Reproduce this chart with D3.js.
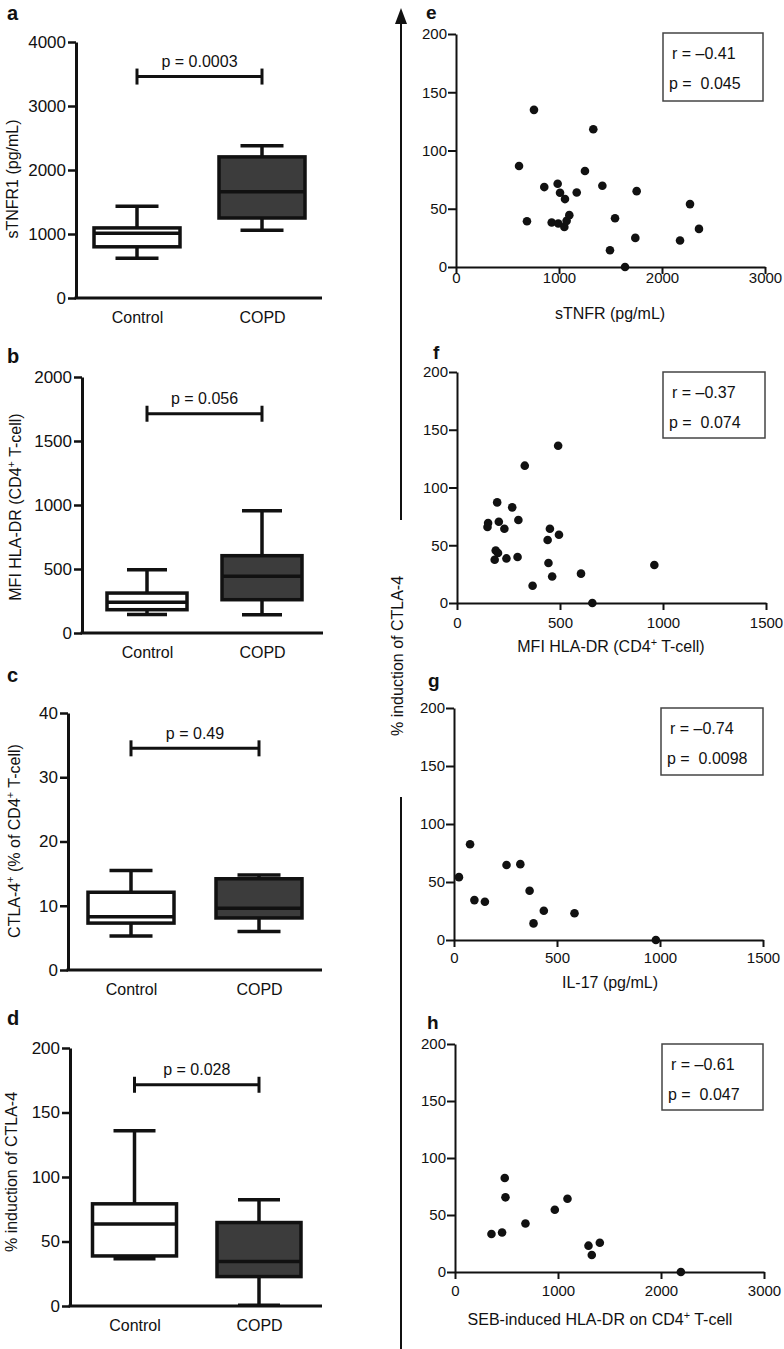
<!DOCTYPE html>
<html><head><meta charset="utf-8">
<script src="https://cdn.jsdelivr.net/npm/d3@7"></script>
<style>
body{margin:0;background:#fff}
svg text{font-family:"Liberation Sans",Arial,Helvetica,sans-serif;fill:#111;white-space:pre}
</style>
</head><body>
<svg id="chart" width="784" height="1349"></svg>
<script>
// ---------- DATA ----------
const boxCategories = ["Control", "COPD"];
// [min, q1, median, q3, max]
const aControl = [620, 800, 1010, 1095, 1435];
const aCOPD    = [1060, 1250, 1660, 2205, 2380];
const bControl = [145, 182, 240, 312, 494];
const bCOPD    = [143, 260, 443, 604, 956];
const cControl = [5.3, 7.3, 8.3, 12.1, 15.5];
const cCOPD    = [6.0, 8.1, 9.6, 14.2, 14.8];
const dControl = [36.7, 38.8, 63.6, 79.2, 135.8];
const dCOPD    = [0.5, 22.8, 34.4, 64.7, 82.3];

const aTicks = [0, 1000, 2000, 3000, 4000];
const bTicks = [0, 500, 1000, 1500, 2000];
const cTicks = [0, 10, 20, 30, 40];
const dTicks = [0, 50, 100, 150, 200];

const pBarLevels = [3460, 1713, 34.5, 171.5];
const pBarTexts = ["p = 0.0003", "p = 0.056", "p = 0.49", "p = 0.028"];

// scatter: x values, y = % induction of CTLA-4
const eX = [757, 1333, 612, 1252, 857, 987, 1010, 1058, 1172, 1421, 1754, 689, 929, 993, 1052, 1074, 1100, 1544, 1495, 1741, 1641, 2175, 2272, 2359];
const eY = [134.9, 118.2, 86.7, 82.4, 68.6, 71.4, 63.7, 58.3, 64, 69.7, 65.1, 39.3, 38.2, 37.3, 34.4, 39.6, 44.5, 41.9, 14.4, 25, 0, 22.7, 54, 32.7];
const fX = [491, 329, 195, 268, 298, 151, 148, 203, 230, 188, 199, 183, 240, 294, 451, 495, 440, 444, 462, 367, 602, 657, 958];
const fY = [136.2, 118.9, 87.1, 82.8, 71.8, 69.3, 65.8, 70.4, 64.3, 45.5, 43.3, 37.5, 38.6, 39.8, 64.3, 59.1, 54.5, 34.6, 23, 15, 25.4, 0, 32.9];
const gX = [78, 24, 99, 150, 255, 322, 367, 386, 436, 585, 980];
const gY = [82.6, 54.2, 34.4, 33, 64.6, 65.4, 42.5, 14.3, 25.2, 23, 0];
const hX = [483, 490, 354, 457, 684, 969, 1092, 1296, 1328, 1406, 2193];
const hY = [82.4, 65.5, 33.3, 34.7, 42.6, 54.6, 64.3, 23.1, 14.9, 25.7, 0];

const scatterYTicks = [0, 50, 100, 150, 200];
const eXTicks = [0, 1000, 2000, 3000];
const fXTicks = [0, 500, 1000, 1500];
const gXTicks = [0, 500, 1000, 1500];
const hXTicks = [0, 1000, 2000, 3000];

const rTexts = ["r = \u20130.41", "r = \u20130.37", "r = \u20130.74", "r = \u20130.61"];
const pTexts = ["p =  0.045", "p =  0.074", "p =  0.0098", "p =  0.047"];

// ---------- DRAW ----------
const svg = d3.select("#chart");

function richText(sel, parts, size) {
  parts.forEach(([t, sup]) => {
    if (sup) {
      sel.append("tspan").attr("font-size", size * 0.68).attr("dy", -size * 0.38).text(t);
    } else {
      const ts = sel.append("tspan").attr("font-size", size).text(t);
      if (sel.node().__supped) ts.attr("dy", size * 0.38);
    }
    sel.node().__supped = !!sup;
  });
}

const leftPanels = [
  {letter: "a", data: [aControl, aCOPD], ticks: aTicks, label: [["sTNFR1 (pg/mL)", 0]], ax: 76, yTop: 42, yBot: 298, xr: 322, c1: 137, c2: 262, bw: 86, lx: 12, ly: 179, letY: 20},
  {letter: "b", data: [bControl, bCOPD], ticks: bTicks, label: [["MFI HLA-DR (CD4", 0], ["+", 1], [" T-cell)", 0]], ax: 82, yTop: 377, yBot: 633, xr: 323, c1: 147, c2: 262, bw: 80, lx: 15.5, ly: 507, letY: 363},
  {letter: "c", data: [cControl, cCOPD], ticks: cTicks, label: [["CTLA-4", 0], ["+", 1], [" (% of CD4", 0], ["+", 1], [" T-cell)", 0]], ax: 68, yTop: 713, yBot: 970, xr: 322, c1: 131, c2: 259, bw: 86, lx: 14.5, ly: 841, letY: 682},
  {letter: "d", data: [dControl, dCOPD], ticks: dTicks, label: [["% induction of CTLA-4", 0]], ax: 70, yTop: 1048, yBot: 1306, xr: 322, c1: 134.5, c2: 259, bw: 84, lx: 11.5, ly: 1172, letY: 1025}
];

leftPanels.forEach((P, i) => {
  const g = svg.append("g");
  const y = d3.scaleLinear().domain([P.ticks[0], P.ticks[P.ticks.length - 1]]).range([P.yBot, P.yTop]);
  const x = d3.scalePoint().domain(boxCategories).range([P.c1, P.c2]);

  // y axis
  const ya = g.append("g").attr("transform", `translate(${P.ax},0)`)
    .call(d3.axisLeft(y).tickValues(P.ticks).tickSizeOuter(0).tickSizeInner(8).tickPadding(2).tickFormat(d3.format("d")));
  ya.attr("font-family", null).attr("font-size", null);
  ya.select(".domain").attr("stroke", "#111").attr("stroke-width", 3);
  ya.selectAll(".tick line").attr("stroke", "#111").attr("stroke-width", 2.5);
  ya.selectAll(".tick text").attr("font-size", 17).attr("fill", "#111");

  // x axis line
  g.append("line").attr("x1", P.ax - 1.5).attr("x2", P.xr).attr("y1", P.yBot).attr("y2", P.yBot)
    .attr("stroke", "#111").attr("stroke-width", 3);
  const xa = g.append("g").attr("transform", `translate(0,${P.yBot})`)
    .call(d3.axisBottom(x).tickSize(0).tickPadding(14));
  xa.attr("font-family", null).attr("font-size", null);
  xa.select(".domain").remove();
  xa.selectAll(".tick text").attr("font-size", 16).attr("fill", "#111");

  // boxes
  P.data.forEach((d, k) => {
    const cx = x(boxCategories[k]);
    const fill = k === 0 ? "#ffffff" : "#3c3c3c";
    const bg = g.append("g").attr("stroke", "#111").attr("stroke-width", 3.5).attr("fill", "none");
    bg.append("line").attr("x1", cx).attr("x2", cx).attr("y1", y(d[0])).attr("y2", y(d[1]));
    bg.append("line").attr("x1", cx).attr("x2", cx).attr("y1", y(d[3])).attr("y2", y(d[4]));
    bg.append("line").attr("x1", cx - P.bw / 4).attr("x2", cx + P.bw / 4).attr("y1", y(d[0])).attr("y2", y(d[0]));
    bg.append("line").attr("x1", cx - P.bw / 4).attr("x2", cx + P.bw / 4).attr("y1", y(d[4])).attr("y2", y(d[4]));
    bg.append("rect").attr("x", cx - P.bw / 2).attr("width", P.bw).attr("y", y(d[3])).attr("height", y(d[1]) - y(d[3]))
      .attr("fill", fill);
    bg.append("line").attr("x1", cx - P.bw / 2).attr("x2", cx + P.bw / 2).attr("y1", y(d[2])).attr("y2", y(d[2]));
  });

  // p bar
  const py = y(pBarLevels[i]);
  const pb = g.append("g").attr("stroke", "#111").attr("stroke-width", 3);
  pb.append("line").attr("x1", P.c1).attr("x2", P.c2).attr("y1", py).attr("y2", py);
  pb.append("line").attr("x1", P.c1).attr("x2", P.c1).attr("y1", py - 8).attr("y2", py + 8);
  pb.append("line").attr("x1", P.c2).attr("x2", P.c2).attr("y1", py - 8).attr("y2", py + 8);
  g.append("text").attr("x", (P.c1 + P.c2) / 2).attr("y", py - 9.5).attr("text-anchor", "middle")
    .attr("font-size", 16).text(pBarTexts[i]);

  // y label
  const yl = g.append("text").attr("transform", `translate(${P.lx},${P.ly}) rotate(-90)`)
    .attr("text-anchor", "middle").attr("dy", "0.35em");
  richText(yl, P.label, 16);

  // letter
  g.append("text").attr("x", 7).attr("y", P.letY).attr("font-size", 20).attr("font-weight", "bold").text(P.letter);
});

const rightPanels = [
  {letter: "e", xs: eX, ys: eY, xticks: eXTicks, label: [["sTNFR (pg/mL)", 0]], ax: 456, xr: 765, yTop: 34, yBot: 267, box: [663, 33, 100, 68], lblX: 610, lblY: 319, tickOff: 16, letX: 426, letY: 19},
  {letter: "f", xs: fX, ys: fY, xticks: fXTicks, label: [["MFI HLA-DR (CD4", 0], ["+", 1], [" T-cell)", 0]], ax: 457, xr: 766, yTop: 372, yBot: 603, box: [663, 372, 102, 66], lblX: 611, lblY: 652, tickOff: 25, letX: 433, letY: 359},
  {letter: "g", xs: gX, ys: gY, xticks: gXTicks, label: [["IL-17 (pg/mL)", 0]], ax: 454, xr: 763, yTop: 708, yBot: 940, box: [661, 708, 102, 67], lblX: 610, lblY: 988, tickOff: 23, letX: 428, letY: 687},
  {letter: "h", xs: hX, ys: hY, xticks: hXTicks, label: [["SEB-induced HLA-DR on CD4", 0], ["+", 1], [" T-cell", 0]], ax: 455, xr: 764, yTop: 1044, yBot: 1272, box: [662, 1044, 101, 66], lblX: 600, lblY: 1325, tickOff: 24, letX: 427, letY: 1029}
];

rightPanels.forEach((P, i) => {
  const g = svg.append("g");
  const x = d3.scaleLinear().domain([P.xticks[0], P.xticks[P.xticks.length - 1]]).range([P.ax, P.xr]);
  const y = d3.scaleLinear().domain([0, 200]).range([P.yBot, P.yTop]);

  const ya = g.append("g").attr("transform", `translate(${P.ax},0)`)
    .call(d3.axisLeft(y).tickValues(scatterYTicks).tickSizeOuter(0).tickSizeInner(8).tickPadding(1));
  ya.attr("font-family", null).attr("font-size", null);
  ya.select(".domain").attr("stroke", "#111").attr("stroke-width", 2);
  ya.selectAll(".tick line").attr("stroke", "#111").attr("stroke-width", 2);
  ya.selectAll(".tick text").attr("font-size", 15).attr("fill", "#111");

  const xa = g.append("g").attr("transform", `translate(0,${P.yBot})`)
    .call(d3.axisBottom(x).tickValues(P.xticks).tickSizeOuter(0).tickSizeInner(7).tickPadding(0).tickFormat(d3.format("d")));
  xa.attr("font-family", null).attr("font-size", null);
  xa.select(".domain").attr("stroke", "#111").attr("stroke-width", 2);
  xa.selectAll(".tick line").attr("stroke", "#111").attr("stroke-width", 2);
  xa.selectAll(".tick text").attr("font-size", 15).attr("fill", "#111")
    .attr("dy", null).attr("y", P.tickOff);

  g.selectAll("circle.pt").data(P.xs.map((v, k) => [v, P.ys[k]])).enter().append("circle")
    .attr("cx", d => x(d[0])).attr("cy", d => y(d[1])).attr("r", 4.3).attr("fill", "#111");

  const [bx, by, bw, bh] = P.box;
  g.append("rect").attr("x", bx).attr("y", by).attr("width", bw).attr("height", bh)
    .attr("fill", "#fff").attr("stroke", "#444").attr("stroke-width", 1.5);
  g.append("text").attr("x", bx + 9).attr("y", by + 26).attr("font-size", 16).text(rTexts[i]);
  g.append("text").attr("x", bx + 6).attr("y", by + 56).attr("font-size", 16).text(pTexts[i]);

  const xl = g.append("text").attr("x", P.lblX).attr("y", P.lblY).attr("text-anchor", "middle");
  richText(xl, P.label, 16);

  g.append("text").attr("x", P.letX).attr("y", P.letY).attr("font-size", 19).attr("font-weight", "bold").text(P.letter);
});

// shared y label with arrow
const arrowX = 401;
svg.append("line").attr("x1", arrowX).attr("x2", arrowX).attr("y1", 22).attr("y2", 520).attr("stroke", "#111").attr("stroke-width", 2);
svg.append("line").attr("x1", arrowX).attr("x2", arrowX).attr("y1", 797).attr("y2", 1349).attr("stroke", "#111").attr("stroke-width", 2);
svg.append("path").attr("d", d3.line()([[arrowX, 8], [arrowX - 6, 24], [arrowX + 6, 24]]) + "Z").attr("fill", "#111");
svg.append("text").attr("transform", "translate(397,656) rotate(-90)").attr("text-anchor", "middle").attr("dy", "0.35em")
  .attr("font-size", 16).text("% induction of CTLA-4");
</script>
</body></html>
